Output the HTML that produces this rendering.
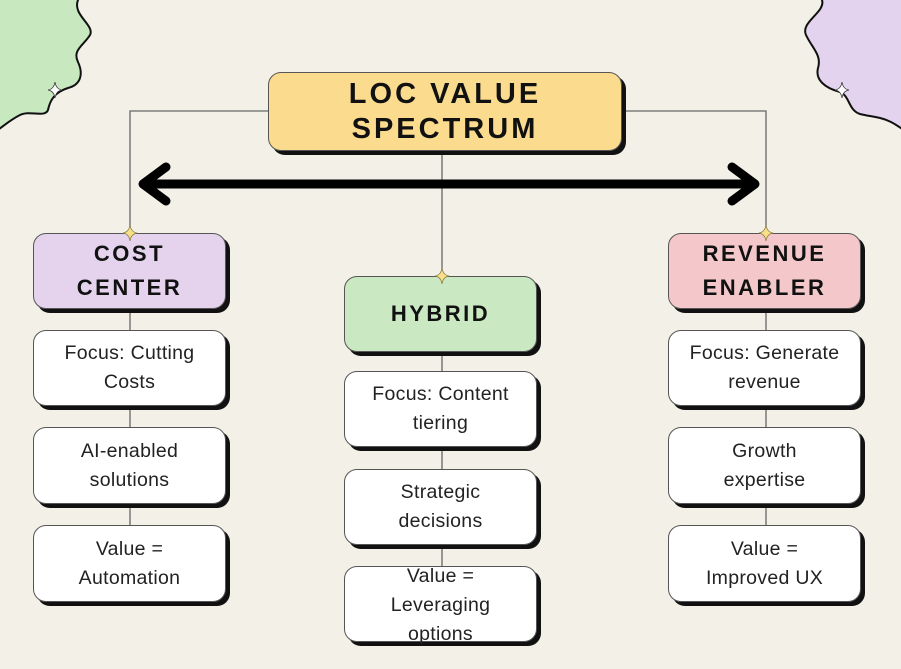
<!DOCTYPE html>
<html><head><meta charset="utf-8"><style>
body{margin:0;width:901px;height:669px;background:#f3f0e7;position:relative;overflow:hidden;font-family:"Liberation Sans",sans-serif}
.b{position:absolute;box-sizing:border-box;border:1.5px solid #555;border-radius:13px;box-shadow:4px 4px 0 #111;display:flex;align-items:center;justify-content:center;text-align:center;color:#222}
.h{font-weight:bold;letter-spacing:2.5px;font-size:22px;line-height:34px;color:#111}
.w{background:#fff;font-size:19.5px;line-height:29px;letter-spacing:.3px}
</style></head><body>
<svg width="901" height="669" style="position:absolute;left:0;top:0">
<path d="M-5,-5 L78,-5 L78,0 C72,15 95,25 90,35 C84,45 72,50 78,62 C84,75 80,85 68,88 C55,92 50,100 48,110 C45,118 30,110 20,115 C10,120 5,125 -5,132 Z" fill="#c8e8c0" stroke="#111" stroke-width="2"/>
<path d="M906,-5 L822,-5 L822,0 C826,12 800,22 806,35 C812,48 822,55 818,68 C815,80 825,88 840,92 C850,96 848,110 860,114 C875,118 885,115 906,132 Z" fill="#e3d3ef" stroke="#111" stroke-width="2"/>
<g fill="#fff" stroke="#333" stroke-width=".8">
<path d="M55,82 Q56,89 62,90 Q56,91 55,98 Q54,91 48,90 Q54,89 55,82Z"/>
<path d="M842,82 Q843,89 849,90 Q843,91 842,98 Q841,91 835,90 Q841,89 842,82Z"/>
</g>
<polyline points="268,111 130,111 130,233" fill="none" stroke="#666" stroke-width="1.3"/>
<polyline points="622,111 766,111 766,233" fill="none" stroke="#666" stroke-width="1.3"/>
<line x1="442" y1="150" x2="442" y2="276" stroke="#666" stroke-width="1.3"/>
<line x1="150" y1="184" x2="748" y2="184" stroke="#000" stroke-width="9"/>
<polyline points="166,167 143,184 166,201" fill="none" stroke="#000" stroke-width="9" stroke-linecap="round" stroke-linejoin="round"/>
<polyline points="732,167 755,184 732,201" fill="none" stroke="#000" stroke-width="9" stroke-linecap="round" stroke-linejoin="round"/>
<line x1="130" y1="310" x2="130" y2="525" stroke="#666" stroke-width="1.3"/>
<line x1="766" y1="310" x2="766" y2="525" stroke="#666" stroke-width="1.3"/>
<line x1="442" y1="352" x2="442" y2="566" stroke="#666" stroke-width="1.3"/>
</svg>
<div class="b h" style="left:268px;top:72px;width:354px;height:79px;background:#fbdc8e;font-size:29px;line-height:35px;letter-spacing:3px">LOC VALUE<br>SPECTRUM</div>
<div class="b h" style="left:33px;top:233px;width:193px;height:76px;background:#e5d3ee">COST<br>CENTER</div>
<div class="b h" style="left:344px;top:276px;width:193px;height:76px;background:#cae8c2">HYBRID</div>
<div class="b h" style="left:668px;top:233px;width:193px;height:76px;background:#f4c8cb">REVENUE<br>ENABLER</div>
<div class="b w" style="left:33px;top:330px;width:193px;height:76px">Focus: Cutting<br>Costs</div>
<div class="b w" style="left:33px;top:427px;width:193px;height:77px">AI-enabled<br>solutions</div>
<div class="b w" style="left:33px;top:525px;width:193px;height:77px">Value =<br>Automation</div>
<div class="b w" style="left:344px;top:371px;width:193px;height:76px">Focus: Content<br>tiering</div>
<div class="b w" style="left:344px;top:469px;width:193px;height:76px">Strategic<br>decisions</div>
<div class="b w" style="left:344px;top:566px;width:193px;height:76px;align-items:flex-start"><div style="margin-top:-5px">Value =<br>Leveraging<br>options</div></div>
<div class="b w" style="left:668px;top:330px;width:193px;height:76px">Focus: Generate<br>revenue</div>
<div class="b w" style="left:668px;top:427px;width:193px;height:77px">Growth<br>expertise</div>
<div class="b w" style="left:668px;top:525px;width:193px;height:77px">Value =<br>Improved UX</div>
<svg width="901" height="669" style="position:absolute;left:0;top:0">
<g fill="#f8e08a" stroke="#8a7a40" stroke-width=".8">
<path d="M130,225 Q131,232 137,233 Q131,234 130,241 Q129,234 123,233 Q129,232 130,225Z"/>
<path d="M766,225 Q767,232 773,233 Q767,234 766,241 Q765,234 759,233 Q765,232 766,225Z"/>
<path d="M442,268 Q443,275 449,276 Q443,277 442,284 Q441,277 435,276 Q441,275 442,268Z"/>
</g></svg>
</body></html>
